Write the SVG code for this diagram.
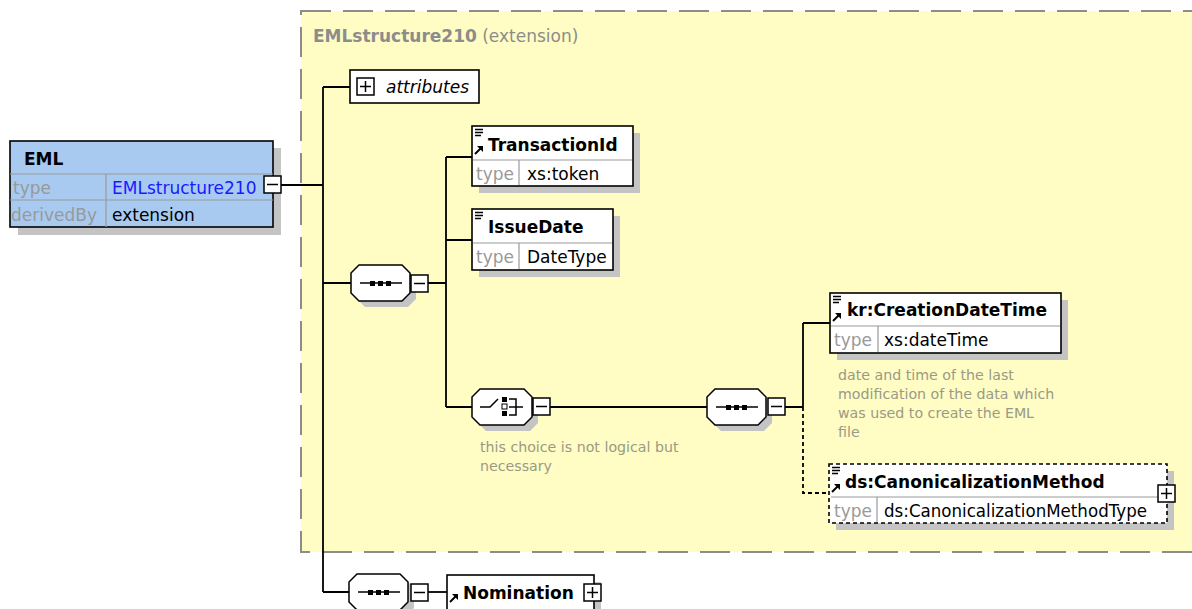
<svg xmlns="http://www.w3.org/2000/svg" xmlns:xlink="http://www.w3.org/1999/xlink" width="1192" height="609" viewBox="0 0 1192 609">
<style>
text{font-family:"DejaVu Sans","Liberation Sans",sans-serif;font-size:17px;fill:#000}
.b{font-weight:bold}
.lbl{fill:#999999}
.doc{font-size:14.2px;fill:#9a9a86}
.title{fill:#8c8c8c;font-size:17px}
.shadow{fill:#c4c4c4}
.box{fill:#fff;stroke:#000;stroke-width:1.6}
.div{stroke:#9a9a9a;stroke-width:1.2;fill:none}
.conn{stroke:#000;stroke-width:1.8;fill:none}
.dash{stroke:#000;stroke-width:1.8;fill:none;stroke-dasharray:4 3}
</style>
<defs>
<g id="seq">
<path class="shadow" d="M14,6 H57 L65,14 V34 L57,42 H14 L6,34 V14 Z"/>
<path d="M8,0 H51 L59,8 V28 L51,36 H8 L0,28 V8 Z" fill="#fff" stroke="#000" stroke-width="1.5"/>
<line x1="9" y1="18" x2="51" y2="18" stroke="#000" stroke-width="1.5"/>
<rect x="19" y="16" width="5" height="5"/>
<rect x="27" y="16" width="5" height="5"/>
<rect x="35" y="16" width="5" height="5"/>
</g>
<g id="minus">
<rect x="0" y="0" width="17" height="17" fill="#fff" stroke="#000" stroke-width="1.5"/>
<line x1="3" y1="8.5" x2="14" y2="8.5" stroke="#000" stroke-width="1.5"/>
</g>
<g id="plus">
<rect x="0" y="0" width="17" height="17" fill="#fff" stroke="#000" stroke-width="1.5"/>
<line x1="3" y1="8.5" x2="14" y2="8.5" stroke="#000" stroke-width="1.5"/>
<line x1="8.5" y1="3" x2="8.5" y2="14" stroke="#000" stroke-width="1.5"/>
</g>
<g id="lines">
<path d="M0,0.5 H8 M0,3.5 H8 M0,6.5 H6" stroke="#000" stroke-width="1.3"/>
</g>
<g id="arrow">
<path d="M0,8 L6,2" stroke="#000" stroke-width="2"/>
<path d="M2,0 H8 V6 Z" fill="#000"/>
</g>
</defs>

<rect x="0" y="0" width="1192" height="609" fill="#fff"/>

<g id="extension">
<rect x="301" y="11" width="910" height="541" fill="#fffdc4" stroke="#8c8c8c" stroke-width="2" stroke-dasharray="30 12"/>
<text x="313" y="42" class="title"><tspan class="b">EMLstructure210</tspan> (extension)</text>
</g>

<g id="connectors">
<path class="conn" d="M281,185 H323 M323,87 V592 M323,87 H350 M323,283 H351 M323,592 H349"/>
<path class="conn" d="M428,283 H446 M446,157 V407 M446,157 H472 M446,240 H472 M446,407 H472"/>
<path class="conn" d="M550,407 H707 M785,407 H803 M803,323 V407 M803,323 H830"/>
<path class="dash" d="M803,407 V493 H829"/>
<path class="conn" d="M428,592 H447"/>
</g>

<g id="EML">
<rect class="shadow" x="18" y="148" width="263" height="87"/>
<rect x="10" y="141" width="263" height="86" fill="#a8caf0" stroke="#000" stroke-width="1.6"/>
<path class="div" d="M10,174 H273 M10,200 H273 M106,174 V227"/>
<text x="24" y="165" class="b">EML</text>
<text x="13" y="194" class="lbl">type</text>
<text x="112" y="194" style="fill:#1a1aff">EMLstructure210</text>
<text x="11" y="221" class="lbl">derivedBy</text>
<text x="112" y="221">extension</text>
<use xlink:href="#minus" x="264" y="176"/>
</g>

<g id="attributes">
<rect class="box" x="350" y="70" width="129" height="33"/>
<use xlink:href="#plus" x="357" y="78"/>
<text x="386" y="93" font-style="italic">attributes</text>
</g>

<g id="sequence1">
<use xlink:href="#seq" x="351" y="265"/>
<use xlink:href="#minus" x="411" y="275"/>
</g>

<g id="TransactionId">
<rect class="shadow" x="479" y="133" width="161" height="60"/>
<rect class="box" x="472" y="126" width="161" height="60"/>
<path class="div" d="M473,160 H632 M519,160 V185"/>
<use xlink:href="#lines" x="475" y="129"/>
<use xlink:href="#arrow" x="475" y="146"/>
<text x="488" y="151" class="b">TransactionId</text>
<text x="476" y="180" class="lbl">type</text>
<text x="527" y="180">xs:token</text>
</g>

<g id="IssueDate">
<rect class="shadow" x="479" y="216" width="141" height="61"/>
<rect class="box" x="472" y="209" width="141" height="61"/>
<path class="div" d="M473,243 H612 M519,243 V269"/>
<use xlink:href="#lines" x="475" y="212"/>
<text x="488" y="233" class="b">IssueDate</text>
<text x="476" y="263" class="lbl">type</text>
<text x="527" y="263">DateType</text>
</g>

<g id="choice">
<path class="shadow" d="M486,395 H530 L538,403 V423 L530,431 H486 L478,423 V403 Z"/>
<path d="M480,389 H524 L532,397 V417 L524,425 H480 L472,417 V397 Z" fill="#fff" stroke="#000" stroke-width="1.5"/>
<path d="M480,407 H490 L498,399" stroke="#000" stroke-width="1.5" fill="none"/>
<rect x="502" y="397" width="5" height="5"/>
<rect x="502" y="404" width="5" height="5" fill="#fff" stroke="#000" stroke-width="1"/>
<rect x="502" y="411" width="5" height="5"/>
<path d="M509,399 H516 V415 H509 M509,407 H523" stroke="#000" stroke-width="1.5" fill="none"/>
<use xlink:href="#minus" x="533" y="398"/>
<text x="480" y="452" class="doc">this choice is not logical but</text>
<text x="480" y="471" class="doc">necessary</text>
</g>

<g id="sequence3">
<use xlink:href="#seq" x="707" y="389"/>
<use xlink:href="#minus" x="768" y="398"/>
</g>

<g id="CreationDateTime">
<rect class="shadow" x="837" y="300" width="231" height="60"/>
<rect class="box" x="830" y="293" width="231" height="60"/>
<path class="div" d="M831,326 H1060 M878,326 V352"/>
<use xlink:href="#lines" x="833" y="296"/>
<use xlink:href="#arrow" x="833" y="313"/>
<text x="847" y="316" class="b">kr:CreationDateTime</text>
<text x="834" y="346" class="lbl">type</text>
<text x="884" y="346">xs:dateTime</text>
<text x="838" y="380" class="doc">date and time of the last</text>
<text x="838" y="399" class="doc">modification of the data which</text>
<text x="838" y="418" class="doc">was used to create the EML</text>
<text x="838" y="437" class="doc">file</text>
</g>

<g id="CanonicalizationMethod">
<rect class="shadow" x="836" y="471" width="338" height="59"/>
<rect x="829" y="464" width="338" height="59" fill="#fff" stroke="#000" stroke-width="1.6" stroke-dasharray="4 3"/>
<path class="div" d="M831,497 H1165 M877,497 V522"/>
<use xlink:href="#lines" x="832" y="467"/>
<use xlink:href="#arrow" x="832" y="484"/>
<text x="845" y="488" class="b">ds:CanonicalizationMethod</text>
<text x="834" y="517" class="lbl">type</text>
<text x="884" y="517" textLength="263" lengthAdjust="spacingAndGlyphs">ds:CanonicalizationMethodType</text>
<use xlink:href="#plus" x="1158" y="485"/>
</g>

<g id="sequenceNomination">
<use xlink:href="#seq" x="349" y="574"/>
<use xlink:href="#minus" x="411" y="584"/>
</g>

<g id="Nomination">
<rect class="shadow" x="454" y="582" width="147" height="40"/>
<rect class="box" x="447" y="575" width="147" height="40"/>
<use xlink:href="#arrow" x="450" y="594"/>
<text x="463" y="599" class="b">Nomination</text>
<use xlink:href="#plus" x="584" y="584"/>
</g>
</svg>
